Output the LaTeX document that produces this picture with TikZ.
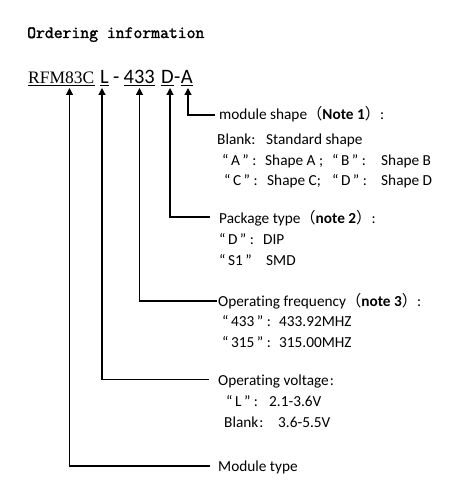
\documentclass[tikz,border=0pt]{standalone}
\usepackage{fontspec}
\setmainfont{Carlito}[Ligatures=NoCommon]
\newfontfamily\cjk{Noto Sans CJK SC}
\newfontfamily\titlefont{Latin Modern Mono}[FakeBold=1.8]
\newfontfamily\serifcode{Liberation Serif}
\usetikzlibrary{arrows.meta}
\newcommand\qq[1]{“\kern2.5pt#1\kern2.5pt”}
\newcommand\cc{\kern3.5pt:}
\newcommand\lp{{\cjk （}}
\newcommand\rp{{\cjk ）}}
\begin{document}
\begin{tikzpicture}[x=1pt,y=-1pt,
  txt/.style={inner sep=0pt, anchor=base west, font=\fontsize{15.3}{18}\selectfont},
  code/.style={inner sep=0pt, anchor=base west, font=\fontsize{20.5}{24}\selectfont},
  ul/.style={line width=1pt},
  conn/.style={line width=1.2pt, -{Triangle[length=7pt,width=7pt]}}]
\fill[white] (0,0) rectangle (456,500);
\useasboundingbox (0,0) rectangle (456,500);
% title
\node[inner sep=0pt, anchor=base west, font=\titlefont\fontsize{17.2}{20}\selectfont] (title) at (27,38) {Ordering information};
% code
\node[inner sep=0pt, anchor=base west, font=\serifcode\fontsize{17.5}{20}\selectfont] (cRFM) at (28,84) {RFM83C};
\node[code] (cL) at (100,84) {L};
\node[code] (cH1) at (113,84) {-};
\node[code] (c433) at (123.5,84) {433};
\node[code] (cD) at (161,84) {D};
\node[code] (cH2) at (cD.base east) {-};
\node[code] (cA) at (cH2.base east) {A};
\foreach \n in {cRFM,cL,c433,cD,cA}
  \draw[ul] ([yshift=-2pt]\n.base west) -- ([yshift=-2pt]\n.base east);
% arrow tips
\coordinate (tRFM) at (69.5,88);
\coordinate (tL) at (102,88);
\coordinate (t433) at (139.5,88);
\coordinate (tD) at (170,88);
\coordinate (tA) at (188,88);
% module shape
\node[txt] (hA) at (219,120) {module shape\lp\textbf{Note 1}\rp:};
\node[txt] (a1) at (217,144) {Blank:};
\node[txt] (a1v) at (266,144) {Standard shape};
\node[txt] (a2) at (222,165) {\qq{A}\cc};
\node[txt] (a2v) at (265,165) {Shape A ;};
\node[txt] (a2b) at (332,165) {\qq{B}\cc};
\node[txt] (a2bv) at (381,165) {Shape B};
\node[txt] (a3) at (224,185.5) {\qq{C}\cc};
\node[txt] (a3v) at (267,185.5) {Shape C;};
\node[txt] (a3b) at (332,185.5) {\qq{D}\cc};
\node[txt] (a3bv) at (381,185.5) {Shape D};
% package
\node[txt] (hD) at (219,223) {Package type\lp\textbf{note 2}\rp:};
\node[txt] (d1) at (219,244) {\qq{D}\cc};
\node[txt] (d1v) at (263,244) {DIP};
\node[txt] (d2) at (219,265) {\qq{S1}};
\node[txt] (d2v) at (266,265) {SMD};
% frequency
\node[txt] (hF) at (218,306) {Operating frequency\lp\textbf{note 3}\rp:};
\node[txt] (f1) at (222,326) {\qq{433}\cc};
\node[txt] (f1v) at (279,326) {433.92MHZ};
\node[txt] (f2) at (222,347) {\qq{315}\cc};
\node[txt] (f2v) at (279,347) {315.00MHZ};
% voltage
\node[txt] (hL) at (218,385) {Operating voltage\kern1pt:};
\node[txt] (v1) at (226,406) {\qq{L}\cc};
\node[txt] (v1v) at (269,406) {2.1-3.6V};
\node[txt] (v2) at (224,427) {Blank\kern1pt:};
\node[txt] (v2v) at (278,427) {3.6-5.5V};
% module type
\node[txt] (hM) at (218,471) {Module type};
% connectors
\draw[conn] ([xshift=-4pt,yshift=5pt]hA.base west) -| (tA);
\draw[conn] ([xshift=-9pt,yshift=6pt]hD.base west) -| (tD);
\draw[conn] ([xshift=-1pt,yshift=5pt]hF.base west) -| (t433);
\draw[conn] ([xshift=-9pt,yshift=5.5pt]hL.base west) -| (tL);
\draw[conn] ([xshift=-8pt,yshift=5pt]hM.base west) -| (tRFM);
\end{tikzpicture}
\end{document}
